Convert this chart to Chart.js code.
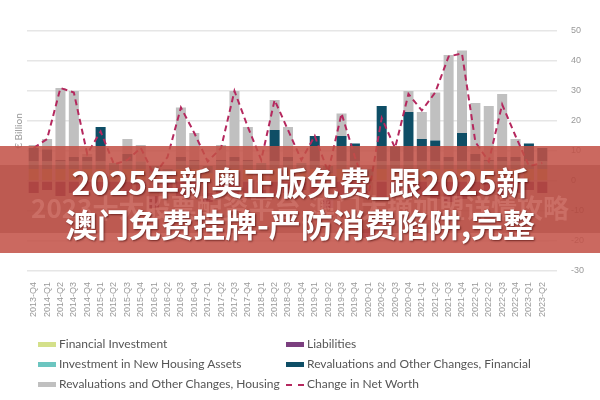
<!DOCTYPE html>
<html><head><meta charset="utf-8">
<script src="https://cdn.jsdelivr.net/npm/chart.js@4"></script>
<style>
body{margin:0;width:600px;height:400px;background:#fff;position:relative;overflow:hidden;font-family:Lato,"Open Sans",sans-serif}
#c{position:absolute;left:0;top:0}
.yt{position:absolute;left:-12px;top:125px;transform:rotate(-90deg);font-size:10px;color:#999;width:60px;text-align:center}
.leg{position:absolute;font-size:12px;color:#555}
.leg span.sw{display:inline-block;width:18px;height:5px;margin-right:3px;vertical-align:middle}
.banner{position:absolute;left:0;top:146px;width:600px;height:107px;background:rgba(195,80,70,0.86)}
.band{position:absolute;left:0;top:165px;width:600px;height:68px;background:rgba(140,40,30,0.22)}
.ghost{position:absolute;left:0;top:188px;width:600px;text-align:center;font:bold 26px "Noto Sans CJK SC";color:rgba(230,150,140,0.35);white-space:nowrap}
.t{position:absolute;left:0;width:600px;text-align:center;font:bold 32px "Noto Sans CJK SC";color:#fff;white-space:nowrap;text-shadow:1px 1px 2px rgba(60,0,0,0.6)}
</style></head><body>
<canvas id="c" width="600" height="400"></canvas>
<div class="yt">€ Billion</div>
<div class="leg" style="left:38px;top:336px"><span class="sw" style="background:#d4e08a"></span>Financial Investment</div>
<div class="leg" style="left:38px;top:356px"><span class="sw" style="background:#6cc5c0"></span>Investment in New Housing Assets</div>
<div class="leg" style="left:38px;top:376px"><span class="sw" style="background:#c0c0c0"></span>Revaluations and Other Changes, Housing</div>
<div class="leg" style="left:286px;top:336px"><span class="sw" style="background:#7b3f7f"></span>Liabilities</div>
<div class="leg" style="left:286px;top:356px"><span class="sw" style="background:#0e4e66"></span>Revaluations and Other Changes, Financial</div>
<div class="leg" style="left:286px;top:376px"><span class="sw" style="background:none;border-top:2px dashed #b5285e;height:0"></span>Change in Net Worth</div>
<div class="banner"></div>
<div class="band"></div>
<div class="ghost">2023十大股票配资平台,澳门大摘加盟详情攻略</div>
<div class="t" style="top:158px">2025年新奥正版免费_跟2025新</div>
<div class="t" style="top:200px">澳门免费挂牌-严防消费陷阱,完整</div>
<script>
const categories=["2013-Q4","2014-Q1","2014-Q2","2014-Q3","2014-Q4","2015-Q1","2015-Q2","2015-Q3","2015-Q4","2016-Q1","2016-Q2","2016-Q3","2016-Q4","2017-Q1","2017-Q2","2017-Q3","2017-Q4","2018-Q1","2018-Q2","2018-Q3","2018-Q4","2019-Q1","2019-Q2","2019-Q3","2019-Q4","2020-Q1","2020-Q2","2020-Q3","2020-Q4","2021-Q1","2021-Q2","2021-Q3","2021-Q4","2022-Q1","2022-Q2","2022-Q3","2022-Q4","2023-Q1","2023-Q2"];
const financialInvestment=[4,4,4,4,4,4,3.5,4,4,2.5,1.5,4,4,2.5,4,4,4,3.5,4,4,3.5,4,2.5,4,4,1.5,4,4,4,4,4,4,4,4,4,4,4,4,4];
const newHousing=[2.5,2.5,2.5,2.5,2.5,2.5,2.5,2.5,2.5,2.5,2.5,2.5,2.5,2.5,2.5,2.5,2.5,2.5,2.5,2.5,2.5,2.5,2.5,2.5,2.5,2.5,2.5,2.5,2.5,2.5,2.5,2.5,2.5,2.5,2.5,2.5,2.5,2.5,2.5];
const revFinancial=[4.5,4,0.5,1.5,1.5,11.5,0,2.5,0,0,0,1.5,0.5,0,0.5,1.5,0.5,0,10.5,1.5,0,8.5,0,8.5,6,0,18.5,5,16.5,7.5,7,1.5,9.5,2.5,0.5,1.5,1.5,6,4.5];
const revHousing=[1,3.5,24,22,1,0,0,5,5.5,-5,0,16.5,9,-4,5,22,11,-3,10,10,0,0,-6,7.5,0,-16,0,0,7,9,16,34,27.5,17,18,21,6,0,0];
const liabilities=[-4,-3,-5,-4,-3,-4,-3,-4,-3,-4,-3,-5,-4,-3,-4,-5,-4,-3,-5,-4,-3,-4,-3,-5,-4,-3,-6,-4,-5,-5,-6,-7,-6,-5,-4,-5,-4,-3,-4];
const netWorth=[11,14,31,29.5,9,16.5,5.5,7,11,2,8,24.5,16,6.5,11,30,18,7,27,17,7,15,3,22.5,8,-5,21,11,29,23.5,29.5,41.5,42.5,13,6.5,25.5,15,5,6];
const yTicks=[50,40,30,20,10,0,-10,-20,-30];
const bar=(label,data,color)=>({type:'bar',label,data,backgroundColor:color,stack:'s',barPercentage:0.75,categoryPercentage:1,order:2});
new Chart(document.getElementById('c'),{
 data:{labels:categories,datasets:[
  {type:'line',label:'Change in Net Worth',data:netWorth,borderColor:'#b5285e',borderWidth:2,borderDash:[6,4],pointRadius:0,tension:0,order:1},
  bar('Financial Investment',financialInvestment,'#d4e08a'),
  bar('Investment in New Housing Assets',newHousing,'#6cc5c0'),
  bar('Revaluations and Other Changes, Financial',revFinancial,'#0e4e66'),
  bar('Revaluations and Other Changes, Housing',revHousing,'#c0c0c0'),
  bar('Liabilities',liabilities,'#7b3f7f')
 ]},
 options:{responsive:false,animation:false,
  layout:{padding:{left:27,right:2,top:31,bottom:80}},
  plugins:{legend:{display:false},tooltip:{enabled:false}},
  scales:{
   x:{stacked:true,grid:{display:false},border:{display:false},ticks:{color:'#999',font:{size:9},maxRotation:90,minRotation:90,autoSkip:false}},
   y:{position:'right',stacked:true,min:-30,max:50,border:{display:false},
      afterBuildTicks:a=>{a.ticks=yTicks.map(v=>({value:v}));},
      grid:{color:'#e6e6e6',lineWidth:1.5},ticks:{color:'#999',font:{size:9},padding:14}}
  }}
});
</script>
</body></html>
